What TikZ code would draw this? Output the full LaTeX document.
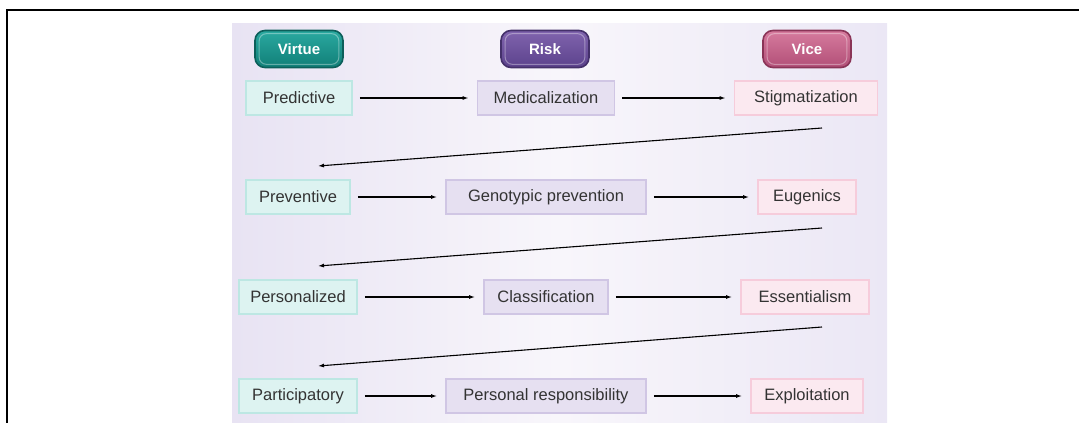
\documentclass[tikz,border=0pt]{standalone}
\usepackage{fontspec}
\setmainfont{Liberation Sans}
\usetikzlibrary{arrows.meta,calc}
\definecolor{panelL}{HTML}{E8E3F3}
\definecolor{panelM}{HTML}{F8F6FB}
\definecolor{panelR}{HTML}{EBE7F5}
\definecolor{tealT}{HTML}{2AA9A0}
\definecolor{tealB}{HTML}{117F78}
\definecolor{tealD}{HTML}{0C5F5A}
\definecolor{purT}{HTML}{8064AE}
\definecolor{purB}{HTML}{5C428C}
\definecolor{purD}{HTML}{44306A}
\definecolor{pinkT}{HTML}{D67B9E}
\definecolor{pinkB}{HTML}{B24F77}
\definecolor{pinkD}{HTML}{8A3457}
\definecolor{vfill}{HTML}{DDF3F1}
\definecolor{vline}{HTML}{BDE7E3}
\definecolor{rfill}{HTML}{E6E0F1}
\definecolor{rline}{HTML}{D0C6E4}
\definecolor{cfill}{HTML}{FBE9F0}
\definecolor{cline}{HTML}{F6CCDB}
\definecolor{txt}{HTML}{333333}
\tikzset{
  pill/.style={rounded corners=10pt, line width=1.6pt, minimum width=88pt, minimum height=37pt,
    text=white, font=\fontsize{15}{17}\selectfont\bfseries, inner sep=0pt},
  vpill/.style={pill, draw=tealD, top color=tealT, bottom color=tealB},
  rpill/.style={pill, draw=purD, top color=purT, bottom color=purB},
  cpill/.style={pill, draw=pinkD, top color=pinkT, bottom color=pinkB},
  gloss/.style={rounded corners=7pt, draw=white, draw opacity=0.35, line width=1pt},
  cell/.style={line width=1.8pt, minimum height=34pt, inner sep=0pt, text=txt,
    font=\fontsize{16.5}{19}\selectfont},
  vcell/.style={cell, draw=vline, fill=vfill},
  rcell/.style={cell, draw=rline, fill=rfill},
  ccell/.style={cell, draw=cline, fill=cfill},
  harrow/.style={-{Latex[length=6pt,width=4pt]}, line width=1.6pt, black, shorten <=7pt, shorten >=8pt},
  darrow/.style={-{Latex[length=6pt,width=4pt]}, line width=1.1pt, black}
}
\begin{document}
\begin{tikzpicture}[x=1pt,y=-1pt]
\useasboundingbox (0,0) rectangle (1079,423);
% outer frame
\draw[line width=1.8pt] (7,423) -- (7,10) -- (1079,10);
% panel
\shade[left color=panelL, right color=panelR, middle color=panelM] (232,23) rectangle (887,423);
% headers
\node[vpill] (hv) at (299,49) {Virtue};
\node[rpill] (hr) at (545,49) {Risk};
\node[cpill] (hc) at (807,49) {Vice};
\foreach \h in {hv,hr,hc}{
  \draw[gloss] ($(\h.south west)+(5,-4)$) rectangle ($(\h.north east)+(-5,4)$);
}
% row 1
\node[vcell, minimum width=106pt] (a1) at (299,98) {Predictive};
\node[rcell, minimum width=137pt] (b1) at (546,98) {Medicalization};
\node[ccell, minimum width=143pt] (c1) at (806,98) {Stigmatization};
% row 2
\node[vcell, minimum width=104pt] (a2) at (298,197) {Preventive};
\node[rcell, minimum width=200pt] (b2) at (546,197) {Genotypic prevention};
\node[ccell, minimum width=98pt] (c2) at (807,197) {Eugenics};
% row 3
\node[vcell, minimum width=118pt] (a3) at (298,297) {Personalized};
\node[rcell, minimum width=124pt] (b3) at (546,297) {Classification};
\node[ccell, minimum width=128pt] (c3) at (805,297) {Essentialism};
% row 4
\node[vcell, minimum width=118pt] (a4) at (298,396) {Participatory};
\node[rcell, minimum width=200pt] (b4) at (546,396) {Personal responsibility};
\node[ccell, minimum width=112pt] (c4) at (807,396) {Exploitation};
% horizontal arrows
\foreach \i in {1,2,3,4}{
  \draw[harrow] (a\i.east) -- (b\i.west);
  \draw[harrow] (b\i.east) -- (c\i.west);
}
% diagonal arrows
\coordinate (d1s) at (822,128);
\coordinate (d1e) at (318,166);
\coordinate (d2s) at (822,228);
\coordinate (d2e) at (318,266);
\coordinate (d3s) at (822,327);
\coordinate (d3e) at (318,366);
\draw[darrow] (d1s) -- (d1e);
\draw[darrow] (d2s) -- (d2e);
\draw[darrow] (d3s) -- (d3e);
\end{tikzpicture}
\end{document}
